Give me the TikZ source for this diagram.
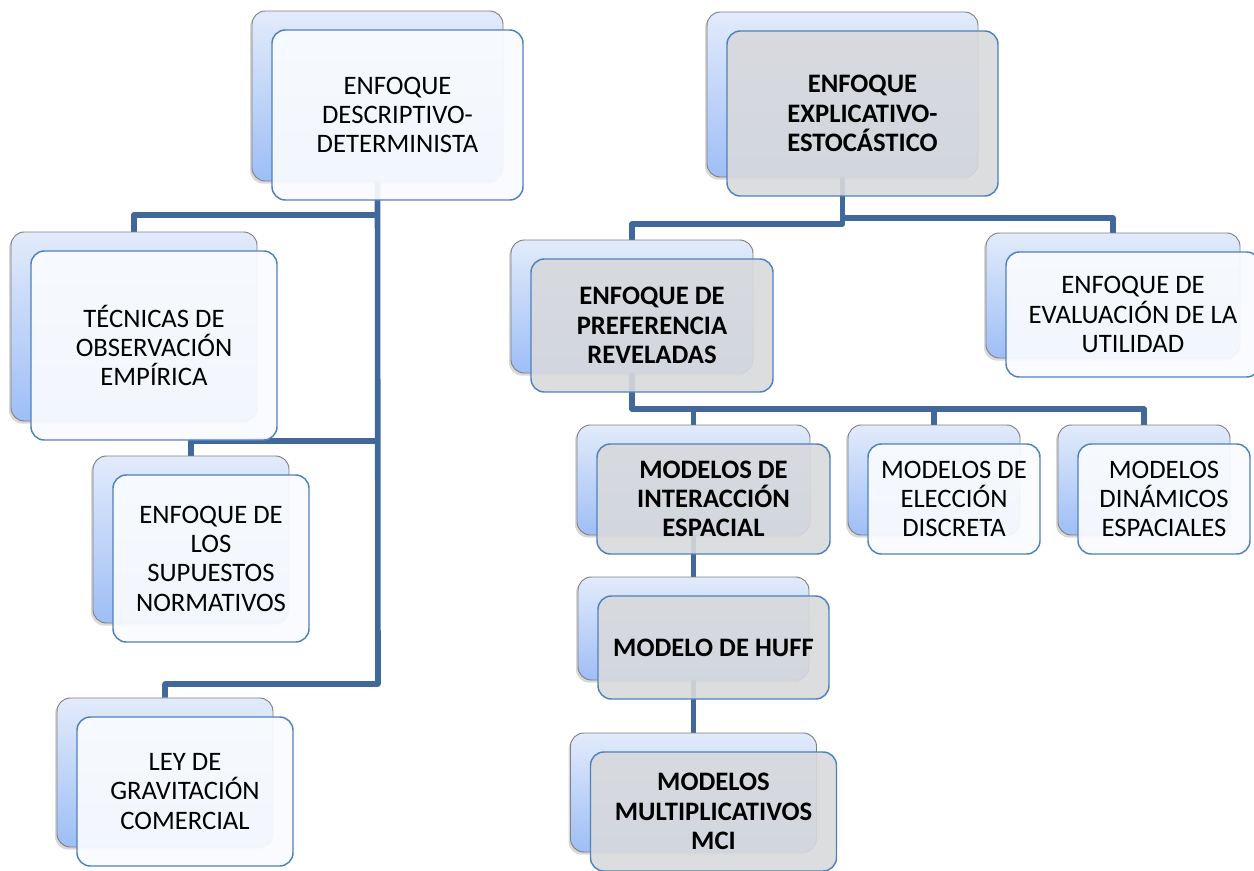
\documentclass[tikz,border=0pt]{standalone}
\usepackage{fontspec}
\setmainfont{Carlito}
\usetikzlibrary{positioning, shadows, backgrounds}
\definecolor{linkblue}{RGB}{65,104,155}
\definecolor{frontblue}{RGB}{79,129,189}
\definecolor{frontwhite}{RGB}{249,251,254}
\definecolor{frontgray}{RGB}{216,217,220}
\definecolor{backtop}{RGB}{226,235,251}
\definecolor{backbot}{RGB}{158,190,246}
\tikzset{
    card/.style 2 args={minimum width=#1*0.75pt, minimum height=#2*0.75pt}, % size in px
    backbox/.style={draw=gray, line width=0.7pt, rounded corners=10pt, inner sep=0pt,
        top color=backtop, bottom color=backbot,
        drop shadow={shadow xshift=-1.5pt, shadow yshift=-2pt, opacity=0.3}},
    frontbox/.style={draw=frontblue, line width=1.1pt, rounded corners=10pt, inner sep=0pt,
        fill=frontwhite, fill opacity=0.93, text opacity=1, align=center,
        font=\fontsize{20}{22}\selectfont},
    graybox/.style={frontbox, fill=frontgray, fill opacity=0.9, font=\fontsize{20}{22}\selectfont\bfseries},
    link/.style={draw=linkblue, line width=4.2pt, line join=round},
}
\begin{document}
\begin{tikzpicture}[x=0.75pt, y=-0.75pt]
  \useasboundingbox (0,0) rectangle (1254,871);

  % joints of the connectors
  \coordinate (lj1) at (378,215);
  \coordinate (lj2) at (378,441);
  \coordinate (lj3) at (378,684);
  \coordinate (rj1) at (842.5,224);
  \coordinate (rj2) at (842.5,218);
  \coordinate (rj3) at (632,409);

  % back boxes
  \node[backbox, card={251}{170}] (b1) at (377.5,96) {};
  \node[backbox, card={271}{165}] (b2) at (842.5,94.5) {};
  \node[backbox, card={246}{189}] (b3) at (134,326.5) {};
  \node[backbox, card={196}{167}] (b4) at (191,539.5) {};
  \node[backbox, card={216}{149}] (b5) at (165,772.5) {};
  \node[backbox, card={242}{133}] (b6) at (632,306.5) {};
  \node[backbox, card={254}{125}] (b7) at (1113,295.5) {};
  \node[backbox, card={233}{110}] (b8) at (693.5,480) {};
  \node[backbox, card={172}{110}] (b9) at (934,480) {};
  \node[backbox, card={172}{110}] (b10) at (1144,480) {};
  \node[backbox, card={231}{103}] (b11) at (693.5,628.5) {};
  \node[backbox, card={246}{119}] (b12) at (693.5,792.5) {};

  % front boxes
  \node[frontbox, card={251}{170}] (f1) at (397.5,115) {ENFOQUE\\DESCRIPTIVO-\\DETERMINISTA};
  \node[graybox, card={271}{165}] (f2) at (862.5,113.5) {ENFOQUE\\EXPLICATIVO-\\ESTOCÁSTICO};
  \node[frontbox, card={246}{189}] (f3) at (154,345.5) {TÉCNICAS DE\\OBSERVACIÓN\\EMPÍRICA};
  \node[frontbox, card={196}{167}] (f4) at (211,558.5) {ENFOQUE DE\\LOS\\SUPUESTOS\\NORMATIVOS};
  \node[frontbox, card={216}{149}] (f5) at (185,791.5) {LEY DE\\GRAVITACIÓN\\COMERCIAL};
  \node[graybox, card={242}{133}] (f6) at (652,325.5) {ENFOQUE DE\\PREFERENCIA\\REVELADAS};
  \node[frontbox, card={254}{125}] (f7) at (1133,314.5) {ENFOQUE DE\\EVALUACIÓN DE LA\\UTILIDAD};
  \node[graybox, card={233}{110}] (f8) at (713.5,499) {MODELOS DE\\INTERACCIÓN\\ESPACIAL};
  \node[frontbox, card={172}{110}] (f9) at (954,499) {MODELOS DE\\ELECCIÓN\\DISCRETA};
  \node[frontbox, card={172}{110}] (f10) at (1164,499) {MODELOS\\DINÁMICOS\\ESPACIALES};
  \node[graybox, card={231}{103}] (f11) at (713.5,647.5) {MODELO DE HUFF};
  \node[graybox, card={246}{119}] (f12) at (713.5,811.5) {MODELOS\\MULTIPLICATIVOS\\MCI};

  % connectors, behind the boxes
  \begin{scope}[on background layer]
    \draw[link] (b1.south) -- (lj3) -| (b5.north);
    \draw[link] (lj1) -| (b3.north);
    \draw[link] (lj2) -| (b4.north);
    \draw[link] (b2.south) -- (rj1) -| (b6.north);
    \draw[link] (rj2) -| (b7.north);
    \draw[link] (b6.south) -- (rj3) -| (b10.north);
    \draw[link] (b8.north |- rj3) -- (b8.north);
    \draw[link] (b9.north |- rj3) -- (b9.north);
    \draw[link] (b8.south) -- (b11.north);
    \draw[link] (b11.south) -- (b12.north);
  \end{scope}
\end{tikzpicture}
\end{document}
